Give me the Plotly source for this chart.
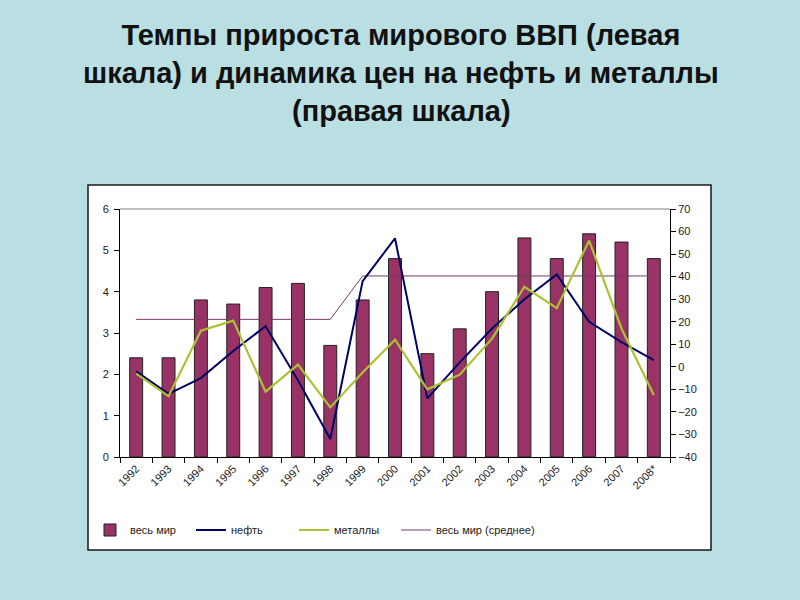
import plotly.graph_objects as go

years = ["1992", "1993", "1994", "1995", "1996", "1997", "1998", "1999", "2000",
         "2001", "2002", "2003", "2004", "2005", "2006", "2007", "2008*"]
world_gdp = [2.4, 2.4, 3.8, 3.7, 4.1, 4.2, 2.7, 3.8, 4.8, 2.5, 3.1, 4.0, 5.3, 4.8, 5.4, 5.2, 4.8]
oil = [-2, -12, -5, 7, 18, -6, -32, 38, 57, -14, 2, 17, 30, 41, 20, 11, 3]
metals = [-3, -13, 16, 20.5, -11, 1, -18, -2.5, 12, -10, -3.5, 12.5, 35.5, 26, 56, 17, -12.5]
world_avg = [3.33, 3.33, 3.33, 3.33, 3.33, 3.33, 3.33, 4.38, 4.38, 4.38, 4.38, 4.38,
             4.38, 4.38, 4.38, 4.38, 4.38]
left_ticks = [0, 1, 2, 3, 4, 5, 6]
right_ticks = [-40, -30, -20, -10, 0, 10, 20, 30, 40, 50, 60, 70]
title_main = "Темпы прироста мирового ВВП (левая<br>шкала) и динамика цен на нефть и металлы"
title_sub = "(правая шкала)"

FONT = "Liberation Sans, Arial, sans-serif"

# plot area in pixels
L, R, T, B = 120, 670, 209, 457
W, H = R - L, B - T

def px(x):
    return (x - L) / W

def py(y):
    return (B - y) / H

fig = go.Figure()
fig.add_trace(go.Bar(x=years, y=world_gdp, name="весь мир", width=0.4,
                     marker=dict(color="#993366", line=dict(color="#222222", width=1)),
                     yaxis="y", legend="legend"))
fig.add_trace(go.Scatter(x=years, y=oil, name="нефть", mode="lines",
                         line=dict(color="#000066", width=2), yaxis="y2", legend="legend2"))
fig.add_trace(go.Scatter(x=years, y=metals, name="металлы", mode="lines",
                         line=dict(color="#aac233", width=2.2), yaxis="y2", legend="legend3"))
fig.add_trace(go.Scatter(x=years, y=world_avg, name="весь мир (среднее)", mode="lines",
                         line=dict(color="#7a3a66", width=1), yaxis="y", legend="legend4"))

shapes = [
    dict(type="rect", xref="paper", yref="paper", x0=px(88), x1=px(711), y0=py(550), y1=py(185),
         fillcolor="white", line=dict(color="#1a1a1a", width=1.5), layer="below"),
    dict(type="line", xref="paper", yref="paper", x0=0, x1=1, y0=1, y1=1,
         line=dict(color="#808080", width=1)),
]

annotations = [
    dict(text="<b>%s</b>" % title_main, xref="paper", yref="paper", x=px(401), y=py(54),
         xanchor="center", yanchor="middle", showarrow=False, align="center",
         font=dict(family=FONT, size=29, color="#111111")),
    dict(text="<b>%s</b>" % title_sub, xref="paper", yref="paper", x=px(401), y=py(111),
         xanchor="center", yanchor="middle", showarrow=False,
         font=dict(family=FONT, size=29, color="#111111")),
]

def leg(x_text):
    return dict(orientation="h", x=px(x_text - 39), y=py(530), xanchor="left", yanchor="middle",
                itemwidth=30, font=dict(size=11, color="#222222"), bgcolor="rgba(0,0,0,0)")

fig.update_layout(
    width=800, height=600, autosize=False,
    margin=dict(l=L, r=800 - R, t=T, b=600 - B, pad=0),
    paper_bgcolor="#b9dfe3",
    plot_bgcolor="rgba(0,0,0,0)",
    font=dict(family=FONT, size=10, color="#222222"),
    shapes=shapes,
    annotations=annotations,
    xaxis=dict(type="category", showline=True, linecolor="#000000", linewidth=1,
               ticks="outside", ticklen=5, tickcolor="#000000", tickson="boundaries",
               tickangle=-45, tickfont=dict(size=11, color="#222222"), showgrid=False,
               range=[-0.5, 16.5]),
    yaxis=dict(range=[0, 6], tickvals=left_ticks, showline=True, linecolor="#000000",
               linewidth=1, ticks="outside", ticklen=5, tickcolor="#000000", showgrid=False,
               zeroline=False, tickfont=dict(size=11, color="#222222"), ticklabelstandoff=3),
    yaxis2=dict(range=[-40, 70], tickvals=right_ticks, overlaying="y", side="right",
                showline=True, linecolor="#000000", linewidth=1, ticks="outside", ticklen=5,
                tickcolor="#000000", showgrid=False, zeroline=False,
                tickfont=dict(size=11, color="#222222")),
    legend=leg(129),
    legend2=leg(230),
    legend3=leg(333),
    legend4=leg(435),
    showlegend=True,
)

fig.write_html("out.html")
